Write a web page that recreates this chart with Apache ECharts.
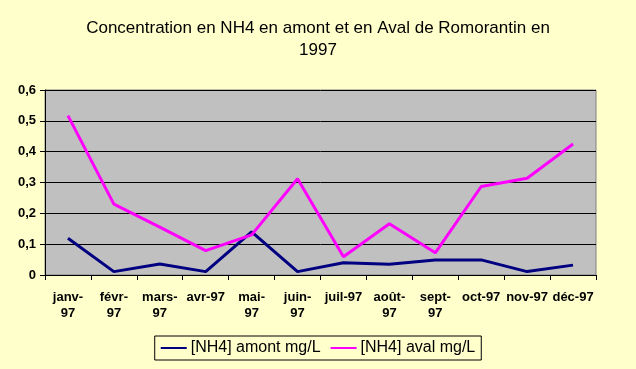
<!DOCTYPE html>
<html><head><meta charset="utf-8">
<script src="https://cdn.jsdelivr.net/npm/echarts@6/dist/echarts.min.js"></script>
<style>html,body{margin:0;padding:0;background:#FFFFCC;}#c{width:636px;height:369px;}</style>
</head><body><div id="c"></div>
<script>
var categories = ['janv-\n97','févr-\n97','mars-\n97','avr-97','mai-\n97','juin-\n97','juil-97','août-\n97','sept-\n97','oct-97','nov-97','déc-97'];
var amont = [0.119,0.011,0.036,0.011,0.14,0.011,0.04,0.035,0.049,0.049,0.011,0.032];
var aval = [0.517,0.23,0.155,0.079,0.13,0.312,0.059,0.166,0.072,0.287,0.314,0.425];
var yTicks = [0, 0.1, 0.2, 0.3, 0.4, 0.5, 0.6];
var chart = echarts.init(document.getElementById('c'));
var font = 'Liberation Sans, Arial, sans-serif';
chart.setOption({
  backgroundColor: '#FFFFCC',
  animation: false,
  title: {
    text: 'Concentration en NH4 en amont et en Aval de Romorantin en\n1997',
    left: 'center', top: 12,
    textStyle: {fontFamily: font, fontSize: 17, fontWeight: 'normal', color: '#000', lineHeight: 22}
  },
  legend: {
    bottom: 9, left: 'center',
    itemWidth: 26, itemHeight: 2, itemGap: 10,
    padding: [4, 6, 4, 6],
    borderColor: '#000', borderWidth: 1, backgroundColor: '#FFFFCC',
    icon: 'rect',
    textStyle: {fontFamily: font, fontSize: 16, color: '#000', padding: [0, 0, 0, -1]},
    data: ['[NH4] amont mg/L', '[NH4] aval mg/L']
  },
  grid: {left: 45, right: 40, top: 90, bottom: 94, show: true, backgroundColor: '#C0C0C0', borderColor: '#808080', borderWidth: 1},
  xAxis: {
    type: 'category', data: categories, boundaryGap: true,
    axisLine: {lineStyle: {color: '#000'}},
    axisTick: {show: true, alignWithLabel: false, length: 5, lineStyle: {color: '#000'}},
    axisLabel: {interval: 0, fontFamily: font, fontSize: 13, fontWeight: 'bold', color: '#000', lineHeight: 16, margin: 14}
  },
  yAxis: {
    type: 'value', min: 0, max: 0.6, interval: 0.1,
    axisLine: {show: true, lineStyle: {color: '#000'}},
    axisTick: {show: true, length: 5, lineStyle: {color: '#000'}},
    splitLine: {lineStyle: {color: '#000', width: 1}},
    axisLabel: {fontFamily: font, fontSize: 13, fontWeight: 'bold', color: '#000', margin: 9,
      formatter: function(v){ return String(Math.round(v*10)/10).replace('.', ','); }}
  },
  series: [
    {name: '[NH4] amont mg/L', type: 'line', data: amont, symbol: 'none', lineStyle: {color: '#000080', width: 3}, itemStyle: {color: '#000080'}},
    {name: '[NH4] aval mg/L', type: 'line', data: aval, symbol: 'none', lineStyle: {color: '#FF00FF', width: 3}, itemStyle: {color: '#FF00FF'}}
  ]
});
</script></body></html>
